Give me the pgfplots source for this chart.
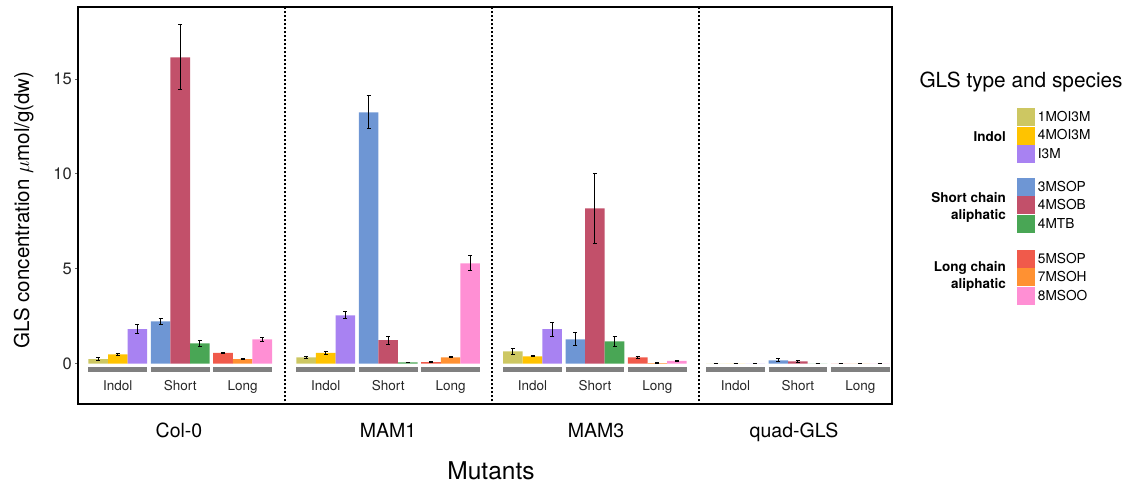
\documentclass[border=0pt]{standalone}
\usepackage{fontspec}
\setmainfont{TeX Gyre Heros}
\usepackage{pgfplots}
\usepackage{pgfplotstable}
\pgfplotsset{compat=1.18}

% species colours
\definecolor{cMOIa}{HTML}{CDC762}
\definecolor{cMOIb}{HTML}{FFC300}
\definecolor{cIIIM}{HTML}{A882F2}
\definecolor{cMSOPs}{HTML}{6E96D4}
\definecolor{cMSOB}{HTML}{C2506A}
\definecolor{cMTB}{HTML}{49A655}
\definecolor{cMSOPl}{HTML}{F05A4B}
\definecolor{cMSOH}{HTML}{FF9132}
\definecolor{cMSOO}{HTML}{FF8FD4}

\newcommand\fs[1]{\fontsize{#1}{#1}\selectfont}

% x = bar position, y = mean, e = error; rows: Col-0, MAM1, MAM3, quad-GLS
\pgfplotstableread{
x y e
0.324 0.23 0.07
3.657 0.33 0.05
6.970 0.65 0.15
10.223 0 0
}\tMOIa
\pgfplotstableread{
x y e
0.638 0.49 0.05
3.971 0.56 0.06
7.284 0.38 0.03
10.537 0 0
}\tMOIb
\pgfplotstableread{
x y e
0.952 1.81 0.25
4.285 2.54 0.18
7.598 1.81 0.38
10.851 0 0
}\tIIIM
\pgfplotstableread{
x y e
1.324 2.23 0.17
4.657 13.24 0.87
7.970 1.28 0.34
11.223 0.17 0.08
}\tMSOPs
\pgfplotstableread{
x y e
1.638 16.14 1.71
4.971 1.23 0.21
8.284 8.18 1.85
11.537 0.12 0.05
}\tMSOB
\pgfplotstableread{
x y e
1.952 1.07 0.17
5.285 0.07 0.01
8.598 1.17 0.25
11.851 0 0
}\tMTB
\pgfplotstableread{
x y e
2.324 0.56 0.05
5.657 0.08 0.02
8.970 0.33 0.06
12.223 0 0
}\tMSOPl
\pgfplotstableread{
x y e
2.638 0.23 0.02
5.971 0.33 0.03
9.284 0.03 0.01
12.537 0 0
}\tMSOH
\pgfplotstableread{
x y e
2.952 1.28 0.12
6.285 5.28 0.40
9.598 0.14 0.02
12.851 0 0
}\tMSOO

\pgfplotsset{
  glsbar/.style={ybar, bar width=0.314, bar shift=0pt, draw=none, fill=#1,
    error bars/.cd, y dir=both, y explicit,
    error bar style={line width=1pt, black},
    error mark options={rotate=90, mark size=2pt, line width=1pt, black}},
}

\begin{document}
\begin{tikzpicture}
\useasboundingbox (0pt,0pt) rectangle (1132pt,489pt);
\begin{axis}[
  at={(78pt,84.7pt)}, anchor=south west,
  scale only axis, width=813.7pt, height=397.1pt,
  xmin=0, xmax=13.04, ymin=-2.145, ymax=18.78,
  axis line style={line width=2pt, black},
  xtick=\empty, ytick={0,5,10,15},
  ytick pos=left, tick align=outside, major tick length=3pt,
  tick style={line width=0.8pt, black!60},
  yticklabel style={font=\fs{16.5}, text=black!85, inner sep=0pt, xshift=-3pt},
  /pgf/number format/assume math mode=true,
]
% panel separators
\draw[line width=2pt, black, dash pattern=on 2pt off 2pt]
  (axis cs:3.317,-2.2) -- (axis cs:3.317,18.8)
  (axis cs:6.635,-2.2) -- (axis cs:6.635,18.8)
  (axis cs:9.952,-2.2) -- (axis cs:9.952,18.8);

% gray strips under each GLS group
\addplot[black!50, line width=4.7pt, unbounded coords=jump] coordinates {
  (0.168,-0.3) (1.108,-0.3) (1.13,nan)
  (1.168,-0.3) (2.108,-0.3) (2.13,nan)
  (2.168,-0.3) (3.108,-0.3) (3.13,nan)
  (3.501,-0.3) (4.441,-0.3) (4.46,nan)
  (4.501,-0.3) (5.441,-0.3) (5.46,nan)
  (5.501,-0.3) (6.441,-0.3) (6.46,nan)
  (6.814,-0.3) (7.754,-0.3) (7.77,nan)
  (7.814,-0.3) (8.754,-0.3) (8.77,nan)
  (8.814,-0.3) (9.754,-0.3) (9.77,nan)
  (10.067,-0.3) (11.007,-0.3) (11.03,nan)
  (11.067,-0.3) (12.007,-0.3) (12.03,nan)
  (12.067,-0.3) (13.007,-0.3)
};

\addplot[glsbar=cMOIa] table[x=x, y=y, y error=e] {\tMOIa};
\addplot[glsbar=cMOIb] table[x=x, y=y, y error=e] {\tMOIb};
\addplot[glsbar=cIIIM] table[x=x, y=y, y error=e] {\tIIIM};
\addplot[glsbar=cMSOPs] table[x=x, y=y, y error=e] {\tMSOPs};
\addplot[glsbar=cMSOB] table[x=x, y=y, y error=e] {\tMSOB};
\addplot[glsbar=cMTB] table[x=x, y=y, y error=e] {\tMTB};
\addplot[glsbar=cMSOPl] table[x=x, y=y, y error=e] {\tMSOPl};
\addplot[glsbar=cMSOH] table[x=x, y=y, y error=e] {\tMSOH};
\addplot[glsbar=cMSOO] table[x=x, y=y, y error=e] {\tMSOO};

% group names inside each panel
\pgfplotsinvokeforeach{0.638,3.971,7.284,10.537}{
  \node[anchor=base, font=\fs{13.5}, text=black!85, inner sep=0pt] at (axis cs:#1,-1.41) {Indol};
}
\pgfplotsinvokeforeach{1.638,4.971,8.284,11.537}{
  \node[anchor=base, font=\fs{13.5}, text=black!85, inner sep=0pt] at (axis cs:#1,-1.41) {Short};
}
\pgfplotsinvokeforeach{2.638,5.971,9.284,12.537}{
  \node[anchor=base, font=\fs{13.5}, text=black!85, inner sep=0pt] at (axis cs:#1,-1.41) {Long};
}
\end{axis}

% panel (mutant) labels and axis titles
\begin{scope}[every node/.style={inner sep=0pt, text=black}]
\node[anchor=base, font=\fs{19.5}] at (179pt,51.7pt) {Col-0};
\node[anchor=base, font=\fs{19.5}] at (388pt,51.7pt) {MAM1};
\node[anchor=base, font=\fs{19.5}] at (596pt,51.7pt) {MAM3};
\node[anchor=base, font=\fs{19.5}] at (794pt,51.7pt) {quad-GLS};
\node[anchor=base, font=\fs{24.5}] at (491pt,9pt) {Mutants};
\node[anchor=base, rotate=90, font=\fs{20.5}] at (29pt,279pt) {GLS concentration $\mu$mol/g(dw)};

% legend
\node[anchor=base west, font=\fs{20.8}] at (919.3pt,401.7pt) {GLS type and species};
\newcommand\lkey[3]{%
  \fill[#1] (1016.7pt,{489pt-#2pt-18pt}) rectangle (1035pt,{489pt-#2pt});
  \node[anchor=base west, font=\fs{13.7}] at (1037.7pt,{489pt-#2pt-13.4pt}) {#3};}
\lkey{cMOIa}{108.3}{1MOI3M}
\lkey{cMOIb}{126.6}{4MOI3M}
\lkey{cIIIM}{144.8}{I3M}
\lkey{cMSOPs}{177.7}{3MSOP}
\lkey{cMSOB}{196.3}{4MSOB}
\lkey{cMTB}{215.0}{4MTB}
\lkey{cMSOPl}{249.7}{5MSOP}
\lkey{cMSOH}{268.3}{7MSOH}
\lkey{cMSOO}{287.0}{8MSOO}
\node[anchor=base east, font=\bfseries\fs{13.5}] at (1006pt,347.3pt) {Indol};
\node[anchor=base east, font=\bfseries\fs{13.5}] at (1006pt,286.3pt) {Short chain};
\node[anchor=base east, font=\bfseries\fs{13.5}] at (1006pt,269.8pt) {aliphatic};
\node[anchor=base east, font=\bfseries\fs{13.5}] at (1006pt,217pt) {Long chain};
\node[anchor=base east, font=\bfseries\fs{13.5}] at (1006pt,200.5pt) {aliphatic};
\end{scope}
\end{tikzpicture}
\end{document}
